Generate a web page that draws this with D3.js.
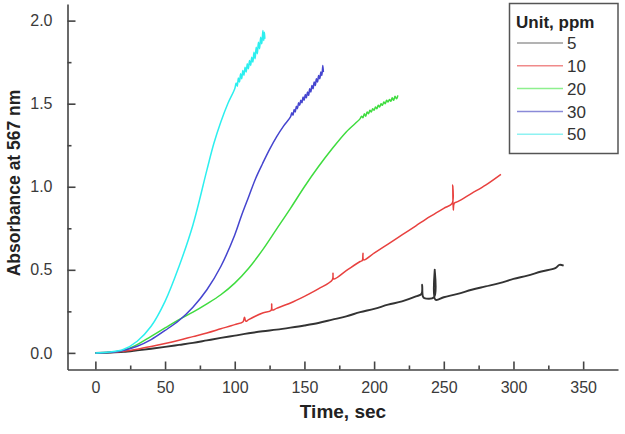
<!DOCTYPE html>
<html>
<head>
<meta charset="utf-8">
<script src="https://cdn.jsdelivr.net/npm/d3@7"></script>
<style>
  html, body { margin: 0; padding: 0; background: #fff; }
  svg { display: block; font-family: "Liberation Sans", Arial, sans-serif; }
</style>
</head>
<body>
<svg id="chart" width="625" height="434"></svg>
<script>
// ---------------- data ----------------
const seriesNames = ["5", "10", "20", "30", "50"];
const legendTitle = "Unit, ppm";
const xTitle = "Time, sec";
const yTitle = "Absorbance at 567 nm";
const xTicks = [0, 50, 100, 150, 200, 250, 300, 350];
const xMinorTicks = [25, 75, 125, 175, 225, 275, 325];
const yTicks = [0.0, 0.5, 1.0, 1.5, 2.0];
const yMinorTicks = [0.25, 0.75, 1.25, 1.75];

// [time (s), absorbance]
const series5 = [[0,0],[10,0.002],[20,0.006],[30,0.015],[40,0.025],[50,0.036],[60,0.048],[70,0.06],[80,0.075],[90,0.09],[100,0.104],[110,0.118],[120,0.13],[130,0.14],[140,0.152],[150,0.165],[160,0.18],[170,0.2],[180,0.22],[190,0.245],[200,0.265],[210,0.29],[220,0.31],[230,0.34],[234,0.355],[234.5,0.41],[235,0.34],[236,0.33],[243,0.335],[243.5,0.5],[244,0.32],[250,0.335],[260,0.355],[270,0.38],[280,0.4],[290,0.42],[300,0.445],[310,0.465],[320,0.49],[330,0.51],[333,0.53],[336,0.525]];
const series10 = [[0,0],[10,0.003],[20,0.01],[30,0.022],[40,0.038],[50,0.056],[60,0.076],[70,0.098],[80,0.12],[90,0.145],[100,0.17],[106,0.188],[107,0.215],[108,0.19],[110,0.2],[120,0.24],[126,0.255],[126.5,0.295],[127,0.258],[130,0.268],[140,0.3],[150,0.34],[160,0.385],[170,0.44],[170.5,0.48],[171,0.445],[180,0.495],[190,0.55],[191.5,0.556],[192,0.6],[192.5,0.56],[200,0.6],[210,0.655],[220,0.71],[230,0.765],[240,0.82],[250,0.87],[256,0.9],[256.4,1.01],[256.8,0.86],[257.5,0.9],[260,0.91],[270,0.96],[280,1.01],[291,1.075]];
const series20 = [[0,0],[10,0.003],[20,0.015],[30,0.05],[40,0.1],[50,0.15],[60,0.2],[70,0.245],[80,0.295],[90,0.35],[100,0.42],[110,0.51],[120,0.62],[130,0.745],[140,0.87],[150,1.0],[160,1.12],[170,1.23],[180,1.33],[190,1.41],[191,1.425],[192,1.415],[193,1.44],[194,1.425],[195,1.45],[196,1.44],[197,1.46],[198,1.45],[199,1.47],[200,1.46],[201,1.48],[202,1.47],[203,1.49],[204,1.48],[205,1.5],[206,1.49],[207,1.51],[208,1.5],[209,1.52],[210,1.51],[211,1.525],[212,1.515],[213,1.535],[214,1.52],[215,1.545],[216,1.53],[217,1.55]];
const series30 = [[0,0],[10,0.003],[20,0.015],[30,0.04],[40,0.08],[50,0.135],[60,0.195],[70,0.275],[80,0.38],[90,0.52],[100,0.71],[105,0.83],[110,0.94],[115,1.05],[120,1.14],[125,1.225],[130,1.3],[135,1.365],[140,1.42],[141,1.445],[141.8,1.43],[142.6,1.465],[143.4,1.45],[144.2,1.485],[145,1.47],[145.8,1.505],[146.6,1.49],[147.4,1.52],[148.2,1.505],[149,1.54],[149.8,1.52],[150.6,1.555],[151.4,1.535],[152.2,1.57],[153,1.55],[153.8,1.59],[154.6,1.57],[155.4,1.61],[156.2,1.59],[157,1.63],[157.8,1.61],[158.6,1.65],[159.4,1.63],[160.2,1.67],[161,1.65],[161.8,1.69],[162.5,1.67],[163.2,1.73],[163.6,1.69]];
const series50 = [[0,0],[10,0.005],[20,0.02],[30,0.07],[40,0.16],[50,0.31],[60,0.52],[70,0.77],[80,1.1],[85,1.26],[90,1.39],[95,1.5],[100,1.59],[101,1.625],[101.8,1.605],[102.6,1.655],[103.4,1.63],[104.2,1.68],[105,1.65],[105.8,1.7],[106.6,1.67],[107.4,1.72],[108.2,1.69],[109,1.74],[109.8,1.71],[110.6,1.76],[111.4,1.73],[112.2,1.78],[113,1.75],[113.8,1.81],[114.6,1.77],[115.4,1.84],[116.2,1.8],[117,1.87],[117.8,1.83],[118.6,1.9],[119.4,1.86],[120.2,1.94],[120.8,1.88],[121.3,1.93],[121.6,1.89]];
const seriesData = [series5, series10, series20, series30, series50];

// ---------------- styles ----------------
const lineColors = ["#333333", "#e8413f", "#3fdc3f", "#4545cf", "#2cefef"];
const legendColors = ["#9a9a9a", "#f08a8a", "#8ef08e", "#8a8ad8", "#8ef2f2"];

const svg = d3.select("#chart");
const x = d3.scaleLinear().domain([-20, 375]).range([67.5, 618]);
const y = d3.scaleLinear().domain([-0.1, 2.1]).range([369.5, 4]);

// axes
const axisColor = "#444";
const yAxis = svg.append("g").attr("transform", "translate(67.5,0)")
  .call(d3.axisLeft(y).tickValues(yTicks).tickFormat(d3.format(".1f"))
    .tickSizeInner(-8).tickSizeOuter(0).tickPadding(15));
const yMinor = svg.append("g").attr("transform", "translate(67.5,0)")
  .call(d3.axisLeft(y).tickValues(yMinorTicks).tickFormat("")
    .tickSizeInner(-4).tickSizeOuter(0));
const xAxis = svg.append("g").attr("transform", "translate(0,369.5)")
  .call(d3.axisBottom(x).tickValues(xTicks).tickFormat(d3.format("d"))
    .tickSizeInner(-8).tickSizeOuter(0).tickPadding(12));
const xMinor = svg.append("g").attr("transform", "translate(0,369.5)")
  .call(d3.axisBottom(x).tickValues(xMinorTicks).tickFormat("")
    .tickSizeInner(-4).tickSizeOuter(0));
[yMinor, xMinor].forEach(g => g.select(".domain").remove());
[yAxis, yMinor, xAxis, xMinor].forEach(g => {
  g.selectAll("path, line").attr("stroke", axisColor).attr("stroke-width", 1.6);
  g.selectAll("text").attr("fill", "#3a3a3a").style("font-size", "16px")
    .style("font-family", "'Liberation Sans', Arial, sans-serif");
});

// axis titles
svg.append("text").attr("x", 343).attr("y", 418).attr("text-anchor", "middle")
  .style("font-size", "19px").style("font-weight", "bold").attr("fill", "#222").text(xTitle);
svg.append("text").attr("transform", "translate(20,183) rotate(-90)").attr("text-anchor", "middle")
  .style("font-size", "17.5px").style("font-weight", "bold").attr("fill", "#222").text(yTitle);

// lines
const line = d3.line().x(d => x(d[0])).y(d => y(d[1])).curve(d3.curveCatmullRom.alpha(0.5));
seriesData.forEach((s, i) => {
  svg.append("path").datum(s).attr("d", line).attr("fill", "none")
    .attr("stroke", lineColors[i]).attr("stroke-width", i === 0 ? 1.9 : 1.5)
    .attr("stroke-linejoin", "round");
});

// legend
const lg = svg.append("g");
lg.append("rect").attr("x", 509.5).attr("y", 3.5).attr("width", 108.5).attr("height", 150)
  .attr("fill", "#fff").attr("stroke", "#555").attr("stroke-width", 1.5);
lg.append("text").attr("x", 516).attr("y", 28).style("font-size", "17px").style("font-weight", "bold")
  .attr("fill", "#222").text(legendTitle);
seriesNames.forEach((n, i) => {
  const yy = 43 + i * 22.8;
  lg.append("line").attr("x1", 517).attr("x2", 563).attr("y1", yy).attr("y2", yy)
    .attr("stroke", legendColors[i]).attr("stroke-width", 1.5);
  lg.append("text").attr("x", 567).attr("y", yy).attr("dy", "0.36em").style("font-size", "17px")
    .attr("fill", "#333").text(n);
});
</script>
</body>
</html>
